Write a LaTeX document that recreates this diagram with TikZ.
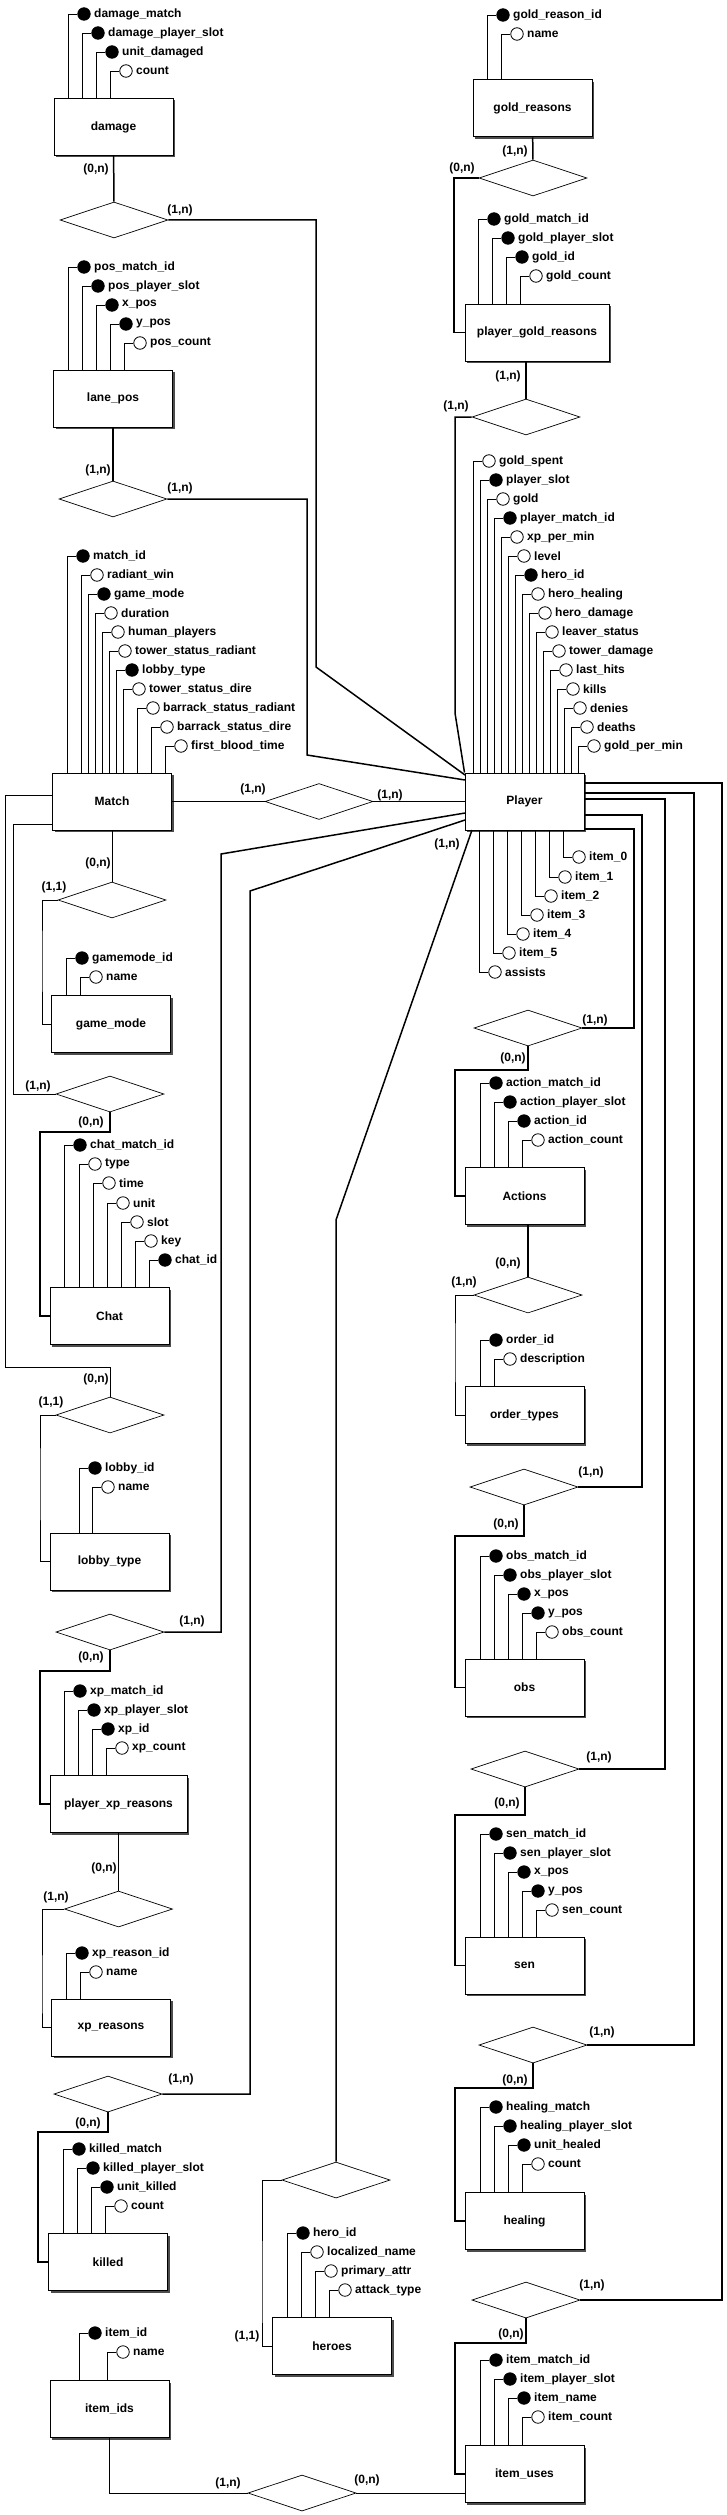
\documentclass[tikz,border=0pt]{standalone}
\usepackage{fontspec}
\setmainfont{Liberation Sans}
\usetikzlibrary{shapes.geometric}
\usetikzlibrary{shadows}

\tikzset{
  entity/.style={draw, line width=1pt, fill=white, minimum width=119pt, minimum height=57pt, inner sep=0pt,
    drop shadow={shadow xshift=2pt, shadow yshift=-2pt, opacity=1, fill=black!70}},
  relation/.style={draw, diamond, aspect=3, line width=0.7pt, fill=white, minimum width=108pt, minimum height=36pt, inner sep=0pt},
  attr/.style={circle, draw, line width=0.8pt, minimum size=12.5pt, inner sep=0pt},
  attrline/.style={line width=0.8pt},
  link/.style={line width=0.8pt},
  tlink/.style={line width=1.5pt},
  card/.style={inner sep=0pt}
}

\begin{document}
\begin{tikzpicture}[x=1pt, y=-1pt, font=\fontsize{12}{14}\selectfont\bfseries]
                \useasboundingbox (0,0) rectangle (727,2515);

                % Entities
                \node[entity] (damage) at (113.5,127) {damage};
                \node[entity] (goldreasons) at (532.5,108.5) {gold\_reasons};
                \node[entity] (lanepos) at (113,398.5) {lane\_pos};
                \node[entity, minimum width=144pt] (pgoldreasons) at (537,332.5) {player\_gold\_reasons};
                \node[entity] (match) at (112,801.5) {Match};
                \node[entity] (player) at (524.5,801.5) {Player};
                \node[entity] (gamemode) at (111,1024) {game\_mode};
                \node[entity] (actions) at (524.5,1196) {Actions};
                \node[entity] (chat) at (109.5,1316) {Chat};
                \node[entity] (ordertypes) at (524.5,1415) {order\_types};
                \node[entity] (lobbytype) at (109.5,1561.5) {lobby\_type};
                \node[entity] (obs) at (524.5,1687.5) {obs};
                \node[entity, minimum width=137pt] (pxpreasons) at (118.5,1804) {player\_xp\_reasons};
                \node[entity] (sen) at (524.5,1965.5) {sen};
                \node[entity] (xpreasons) at (111,2027.5) {xp\_reasons};
                \node[entity] (healing) at (524.5,2221) {healing};
                \node[entity] (killed) at (108,2262) {killed};
                \node[entity] (heroes) at (332,2346) {heroes};
                \node[entity] (itemids) at (109.5,2409) {item\_ids};
                \node[entity] (itemuses) at (524.5,2474) {item\_uses};

                % Relationships
                \node[relation] (r-damage) at (114,220) {};
                \node[relation] (r-goldr) at (533,178) {};
                \node[relation] (r-lane) at (113,499) {};
                \node[relation] (r-goldp) at (526,417) {};
                \node[relation] (r-matchp) at (319,801.5) {};
                \node[relation] (r-gamemode) at (112,900) {};
                \node[relation] (r-actions) at (528,1028) {};
                \node[relation] (r-chat) at (110,1094) {};
                \node[relation] (r-order) at (528,1295) {};
                \node[relation] (r-lobby) at (110,1415) {};
                \node[relation] (r-obs) at (524,1487) {};
                \node[relation] (r-xp) at (110,1632) {};
                \node[relation] (r-sen) at (525,1769) {};
                \node[relation] (r-xpr) at (118.5,1909) {};
                \node[relation] (r-healing) at (533,2045) {};
                \node[relation] (r-killed) at (108,2094) {};
                \node[relation] (r-heroes) at (336,2180) {};
                \node[relation] (r-itemuses) at (526,2300) {};
                \node[relation] (r-item) at (302,2493) {};

                % Attributes above the entities
                \foreach \lx/\ly/\f/\t [count=\i] in {68/14/black/damage\_match, 82/33/black/damage\_player\_slot, 96/52/black/unit\_damaged, 110/71/white/count}{
                  \node[attr, fill=\f, label={right:\t}] (damage-a\i) at (\lx+16,\ly) {};
                  \draw[attrline] (\lx,\ly |- damage.north) |- (damage-a\i);
                }
                \foreach \lx/\ly/\f/\t [count=\i] in {487/15/black/gold\_reason\_id, 501/34/white/name}{
                  \node[attr, fill=\f, label={right:\t}] (goldreasons-a\i) at (\lx+16,\ly) {};
                  \draw[attrline] (\lx,\ly |- goldreasons.north) |- (goldreasons-a\i);
                }
                \foreach \lx/\ly/\f/\t [count=\i] in {68/267/black/pos\_match\_id, 82/286/black/pos\_player\_slot, 96/305/black/x\_pos, 110/324/black/y\_pos, 124/343/white/pos\_count}{
                  \node[attr, fill=\f, label={right:\t}] (lanepos-a\i) at (\lx+16,\ly) {};
                  \draw[attrline] (\lx,\ly |- lanepos.north) |- (lanepos-a\i);
                }
                \foreach \lx/\ly/\f/\t [count=\i] in {478/219/black/gold\_match\_id, 492/238/black/gold\_player\_slot, 506/257/black/gold\_id, 520/276/white/gold\_count}{
                  \node[attr, fill=\f, label={right:\t}] (pgoldreasons-a\i) at (\lx+16,\ly) {};
                  \draw[attrline] (\lx,\ly |- pgoldreasons.north) |- (pgoldreasons-a\i);
                }
                \foreach \lx/\ly/\f/\t [count=\i] in {67/556/black/match\_id, 81/575/white/radiant\_win, 88/594/black/game\_mode, 95/613/white/duration, 102/632/white/human\_players, 109/651/white/tower\_status\_radiant, 116/670/black/lobby\_type, 123/689/white/tower\_status\_dire, 137/708/white/barrack\_status\_radiant, 151/727/white/barrack\_status\_dire, 165/746/white/first\_blood\_time}{
                  \node[attr, fill=\f, label={right:\t}] (match-a\i) at (\lx+16,\ly) {};
                  \draw[attrline] (\lx,\ly |- match.north) |- (match-a\i);
                }
                \foreach \f/\t [count=\i from 0] in {white/gold\_spent, black/player\_slot, white/gold, black/player\_match\_id, white/xp\_per\_min, white/level, black/hero\_id, white/hero\_healing, white/hero\_damage, white/leaver\_status, white/tower\_damage, white/last\_hits, white/kills, white/denies, white/deaths, white/gold\_per\_min}{
                  \node[attr, fill=\f, label={right:\t}] (player-a\i) at (489+7*\i,461+19*\i) {};
                  \draw[attrline] (473+7*\i,0 |- player.north) |- (player-a\i);
                }
                \foreach \lx/\ly/\f/\t [count=\i] in {66/958/black/gamemode\_id, 80/977/white/name}{
                  \node[attr, fill=\f, label={right:\t}] (gamemode-a\i) at (\lx+16,\ly) {};
                  \draw[attrline] (\lx,\ly |- gamemode.north) |- (gamemode-a\i);
                }
                \foreach \lx/\ly/\f/\t [count=\i] in {480/1083/black/action\_match\_id, 494/1102/black/action\_player\_slot, 508/1121/black/action\_id, 522/1140/white/action\_count}{
                  \node[attr, fill=\f, label={right:\t}] (actions-a\i) at (\lx+16,\ly) {};
                  \draw[attrline] (\lx,\ly |- actions.north) |- (actions-a\i);
                }
                \foreach \lx/\ly/\f/\t [count=\i] in {64/1145/black/chat\_match\_id, 79/1164/white/type, 93/1183/white/time, 107/1203/white/unit, 121/1222/white/slot, 135/1241/white/key, 149/1260/black/chat\_id}{
                  \node[attr, fill=\f, label={right:\t}] (chat-a\i) at (\lx+16,\ly) {};
                  \draw[attrline] (\lx,\ly |- chat.north) |- (chat-a\i);
                }
                \foreach \lx/\ly/\f/\t [count=\i] in {480/1340/black/order\_id, 494/1359/white/description}{
                  \node[attr, fill=\f, label={right:\t}] (ordertypes-a\i) at (\lx+16,\ly) {};
                  \draw[attrline] (\lx,\ly |- ordertypes.north) |- (ordertypes-a\i);
                }
                \foreach \lx/\ly/\f/\t [count=\i] in {79/1468/black/lobby\_id, 92/1487/white/name}{
                  \node[attr, fill=\f, label={right:\t}] (lobbytype-a\i) at (\lx+16,\ly) {};
                  \draw[attrline] (\lx,\ly |- lobbytype.north) |- (lobbytype-a\i);
                }
                \foreach \lx/\ly/\f/\t [count=\i] in {480/1556/black/obs\_match\_id, 494/1575/black/obs\_player\_slot, 508/1594/black/x\_pos, 522/1613/black/y\_pos, 536/1632/white/obs\_count}{
                  \node[attr, fill=\f, label={right:\t}] (obs-a\i) at (\lx+16,\ly) {};
                  \draw[attrline] (\lx,\ly |- obs.north) |- (obs-a\i);
                }
                \foreach \lx/\ly/\f/\t [count=\i] in {64/1691/black/xp\_match\_id, 78/1710/black/xp\_player\_slot, 92/1729/black/xp\_id, 106/1748/white/xp\_count}{
                  \node[attr, fill=\f, label={right:\t}] (pxpreasons-a\i) at (\lx+16,\ly) {};
                  \draw[attrline] (\lx,\ly |- pxpreasons.north) |- (pxpreasons-a\i);
                }
                \foreach \lx/\ly/\f/\t [count=\i] in {480/1834/black/sen\_match\_id, 494/1853/black/sen\_player\_slot, 508/1872/black/x\_pos, 522/1891/black/y\_pos, 536/1910/white/sen\_count}{
                  \node[attr, fill=\f, label={right:\t}] (sen-a\i) at (\lx+16,\ly) {};
                  \draw[attrline] (\lx,\ly |- sen.north) |- (sen-a\i);
                }
                \foreach \lx/\ly/\f/\t [count=\i] in {66/1953/black/xp\_reason\_id, 80/1972/white/name}{
                  \node[attr, fill=\f, label={right:\t}] (xpreasons-a\i) at (\lx+16,\ly) {};
                  \draw[attrline] (\lx,\ly |- xpreasons.north) |- (xpreasons-a\i);
                }
                \foreach \lx/\ly/\f/\t [count=\i] in {480/2107/black/healing\_match, 494/2126/black/healing\_player\_slot, 508/2145/black/unit\_healed, 522/2164/white/count}{
                  \node[attr, fill=\f, label={right:\t}] (healing-a\i) at (\lx+16,\ly) {};
                  \draw[attrline] (\lx,\ly |- healing.north) |- (healing-a\i);
                }
                \foreach \lx/\ly/\f/\t [count=\i] in {63/2149/black/killed\_match, 77/2168/black/killed\_player\_slot, 91/2187/black/unit\_killed, 105/2206/white/count}{
                  \node[attr, fill=\f, label={right:\t}] (killed-a\i) at (\lx+16,\ly) {};
                  \draw[attrline] (\lx,\ly |- killed.north) |- (killed-a\i);
                }
                \foreach \lx/\ly/\f/\t [count=\i] in {287/2233/black/hero\_id, 301/2252/white/localized\_name, 315/2271/white/primary\_attr, 329/2290/white/attack\_type}{
                  \node[attr, fill=\f, label={right:\t}] (heroes-a\i) at (\lx+16,\ly) {};
                  \draw[attrline] (\lx,\ly |- heroes.north) |- (heroes-a\i);
                }
                \foreach \lx/\ly/\f/\t [count=\i] in {79/2333/black/item\_id, 107/2352/white/name}{
                  \node[attr, fill=\f, label={right:\t}] (itemids-a\i) at (\lx+16,\ly) {};
                  \draw[attrline] (\lx,\ly |- itemids.north) |- (itemids-a\i);
                }
                \foreach \lx/\ly/\f/\t [count=\i] in {480/2360/black/item\_match\_id, 494/2379/black/item\_player\_slot, 508/2398/black/item\_name, 522/2417/white/item\_count}{
                  \node[attr, fill=\f, label={right:\t}] (itemuses-a\i) at (\lx+16,\ly) {};
                  \draw[attrline] (\lx,\ly |- itemuses.north) |- (itemuses-a\i);
                }

                % Attributes below Player
                \foreach \lx/\ly/\t [count=\i] in {563/857/item\_0, 549/877/item\_1, 535/896/item\_2, 521/915/item\_3, 507/934/item\_4, 493/953/item\_5, 479/972/assists}{
                  \node[attr, fill=white, label={right:\t}] (player-b\i) at (\lx+16,\ly) {};
                  \draw[attrline] (\lx,\ly |- player.south) |- (player-b\i);
                }

                % Bend points
                \coordinate (k-dmg) at (316,667);
                \coordinate (p-dmg) at (465,775);
                \coordinate (k-lane) at (307,755);
                \coordinate (p-lane) at (465,780);
                \coordinate (k-g1) at (454,250);
                \coordinate (k-g2) at (455,713);
                \coordinate (k-xp) at (221,854);
                \coordinate (p-xp) at (465,813);
                \coordinate (k-kil) at (250,891);
                \coordinate (p-kil) at (465,820);
                \coordinate (k-hr) at (336,1220);
                \coordinate (p-hr) at (472,830);
                \coordinate (k-iu) at (722,783);
                \coordinate (k-he) at (694,793);
                \coordinate (k-se) at (665,799);
                \coordinate (k-ob) at (642,815);
                \coordinate (k-ac) at (634,829);

                % Links into Player (left)
                \draw[tlink] (damage) -- (r-damage);
                \draw[tlink] (r-damage.east) -| (k-dmg) -- (p-dmg);
                \draw[tlink] (lanepos) -- (r-lane);
                \draw[tlink] (r-lane.east) -| (k-lane) -- (p-lane);
                \draw[tlink] (goldreasons) -- (r-goldr);
                \draw[tlink] (r-goldr.west) -| (k-g1) |- (pgoldreasons.west);
                \draw[tlink] (r-goldp.north |- pgoldreasons.south) -- (r-goldp.north);
                \draw[tlink] (r-goldp.west) -| (k-g2) -- (player.north west);
                \draw[link] (match) -- (r-matchp) -- (player);
                \draw[tlink] (r-xp.east) -| (k-xp) -- (p-xp);
                \draw[tlink] (r-killed.east) -| (k-kil) -- (p-kil);
                \draw[tlink] (r-heroes.north) -- (k-hr) -- (p-hr);

                % Links into Player (right)
                \draw[tlink] (player.east |- k-iu) -- (k-iu) |- (r-itemuses.east);
                \draw[tlink] (player.east |- k-he) -- (k-he) |- (r-healing.east);
                \draw[tlink] (player.east |- k-se) -- (k-se) |- (r-sen.east);
                \draw[tlink] (player.east |- k-ob) -- (k-ob) |- (r-obs.east);
                \draw[tlink] (player.east |- k-ac) -- (k-ac) |- (r-actions.east);

                % Match side
                \coordinate (k-ch) at (13,824);
                \coordinate (k-lb) at (5,795);
                \coordinate (k-lb2) at (110,1367);
                \draw[link] (match) -- (r-gamemode);
                \draw[link] (r-gamemode.west) -| (42,960) |- (gamemode.west);
                \draw[link] (match.west |- k-ch) -- (k-ch) |- (r-chat.west);
                \draw[tlink] (r-chat.south) |- (40,1132) |- (chat.west);
                \draw[link] (match.west |- k-lb) -- (k-lb) |- (k-lb2) -- (r-lobby.north);
                \draw[link] (r-lobby.west) -| (40,1480) |- (lobbytype.west);

                % Left column
                \draw[tlink] (r-xp.south) |- (40,1671) |- (pxpreasons.west);
                \draw[tlink] (pxpreasons) -- (r-xpr);
                \draw[link] (r-xpr.west) -| (42,2000) |- (xpreasons.west);
                \draw[tlink] (r-killed.south) |- (38,2132) |- (killed.west);
                \draw[link] (r-heroes.west) -| (262,2300) |- (heroes.west);
                \draw[link] (itemids.south) |- (r-item.west);
                \draw[link] (r-item.east) -- (itemuses.west |- r-item);

                % Right column
                \draw[tlink] (r-actions.south) |- (455,1070) |- (actions.west);
                \draw[tlink] (r-order.north |- actions.south) -- (r-order.north);
                \draw[link] (r-order.west) -| (455,1350) |- (ordertypes.west);
                \draw[tlink] (r-obs.south) |- (455,1536) |- (obs.west);
                \draw[tlink] (r-sen.south) |- (455,1815) |- (sen.west);
                \draw[tlink] (r-healing.south) |- (455,2088) |- (healing.west);
                \draw[tlink] (r-itemuses.south) |- (455,2343) |- (itemuses.west);

                % Cardinalities
                \foreach \cx/\cy/\t [count=\i] in {96/169/{(0,n)}, 180/210/{(1,n)}, 515/151/{(1,n)}, 462/168/{(0,n)}, 508/376/{(1,n)}, 456/406/{(1,n)}, 98/470/{(1,n)}, 180/488/{(1,n)}, 253/789/{(1,n)}, 390/795/{(1,n)}, 447/844/{(1,n)}, 98/863/{(0,n)}, 54/887/{(1,1)}, 595/1020/{(1,n)}, 513/1058/{(0,n)}, 38/1086/{(1,n)}, 91/1122/{(0,n)}, 508/1263/{(0,n)}, 464/1282/{(1,n)}, 96/1379/{(0,n)}, 51/1402/{(1,1)}, 591/1472/{(1,n)}, 506/1524/{(0,n)}, 192/1621/{(1,n)}, 91/1657/{(0,n)}, 599/1757/{(1,n)}, 507/1803/{(0,n)}, 104/1868/{(0,n)}, 56/1897/{(1,n)}, 602/2032/{(1,n)}, 181/2079/{(1,n)}, 515/2080/{(0,n)}, 88/2123/{(0,n)}, 592/2285/{(1,n)}, 511/2334/{(0,n)}, 247/2336/{(1,1)}, 228/2483/{(1,n)}, 367/2480/{(0,n)}}{
                  \node[card] (card\i) at (\cx,\cy) {\t};
                }
            \end{tikzpicture}
\end{document}
